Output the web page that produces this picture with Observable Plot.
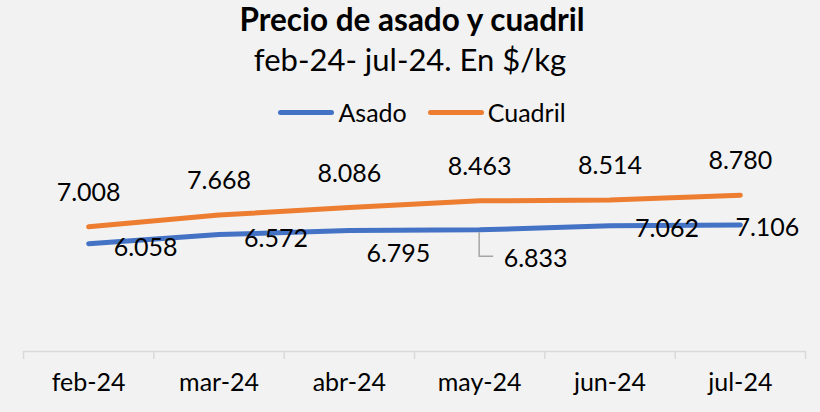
<!DOCTYPE html>
<html>
<head>
<meta charset="utf-8">
<script src="https://cdn.jsdelivr.net/npm/d3@7"></script>
<script src="https://cdn.jsdelivr.net/npm/@observablehq/plot@0.6"></script>
<style>
  html, body { margin: 0; padding: 0; background: #f2f2f2; }
  body { width: 820px; height: 412px; overflow: hidden; font-family: Lato, "Open Sans", sans-serif; color: #000; }
  #header { position: relative; width: 820px; height: 130px; }
  .t { position: absolute; left: 0; width: 820px; text-align: center; line-height: 1; white-space: nowrap; }
  #title { top: 4px; left: 2px; font-size: 31.5px; font-weight: 700; }
  #subtitle { top: 44px; font-size: 31px; }
  #legend { position: absolute; top: 100px; left: 0; width: 820px; display: flex; justify-content: center; align-items: center; font-size: 25px; line-height: 1; transform: translateX(12px); }
  .sw { width: 56px; height: 5px; border-radius: 3px; margin-right: 4px; }
  .gap { width: 21px; }
  #chart svg [aria-label="x-axis tick"] { stroke-width: 1.5; }
</style>
</head>
<body>
<div id="header">
  <div class="t" id="title">Precio de asado y cuadril</div>
  <div class="t" id="subtitle">feb-24- jul-24. En $/kg</div>
  <div id="legend"></div>
</div>
<div id="chart"></div>
<script>
const months = ["feb-24", "mar-24", "abr-24", "may-24", "jun-24", "jul-24"];
const asado = [6058, 6572, 6795, 6833, 7062, 7106];
const cuadril = [7008, 7668, 8086, 8463, 8514, 8780];
const seriesNames = ["Asado", "Cuadril"];
const seriesColors = ["#4472c4", "#ed7d31"];
// label placement (pixel offsets) for the Asado data labels, as in the original
const asadoLabelDx = [57, 57, 49, 56, 57, 27];
const asadoLabelDy = [4, 4, 23, 29, 3, 3];

const fmt = d3.formatLocale({decimal: ",", thousands: ".", grouping: [3], currency: ["$", ""]}).format(",d");
const idx = d3.range(months.length);
const boundaries = d3.range(months.length + 1).map(i => i - 0.5);

// legend
const legend = document.getElementById("legend");
seriesNames.forEach((name, k) => {
  if (k > 0) { const g = document.createElement("div"); g.className = "gap"; legend.appendChild(g); }
  const sw = document.createElement("div"); sw.className = "sw"; sw.style.background = seriesColors[k]; legend.appendChild(sw);
  const tx = document.createElement("span"); tx.textContent = name; legend.appendChild(tx);
});

const leader = (index, scales) => {
  const i = 3;
  const x = scales.x(i), y = scales.y(asado[i]);
  const p = d3.create("svg:path")
    .attr("d", `M${x},${y + 3}V${y + 27}H${x + 14}`)
    .attr("fill", "none")
    .attr("stroke", "#a6a6a6")
    .attr("stroke-width", 1.5);
  return p.node();
};

const chart = Plot.plot({
  width: 820,
  height: 282,
  marginLeft: 23,
  marginRight: 15,
  marginTop: 43,
  marginBottom: 61,
  style: { background: "transparent", color: "#d9d9d9", fontFamily: "Lato, 'Open Sans', sans-serif", overflow: "visible" },
  x: { domain: [-0.5, 5.5], ticks: boundaries, tickFormat: () => "", tickSize: 8, label: null },
  y: { domain: [0, 10000], axis: null },
  marks: [
    Plot.ruleY([0], { stroke: "#d9d9d9", strokeWidth: 1.5 }),
    Plot.line(idx, { x: i => i, y: i => cuadril[i], stroke: seriesColors[1], strokeWidth: 5, strokeLinecap: "round", strokeLinejoin: "round" }),
    Plot.line(idx, { x: i => i, y: i => asado[i], stroke: seriesColors[0], strokeWidth: 5, strokeLinecap: "round", strokeLinejoin: "round" }),
    Plot.text(idx, { x: i => i, y: i => cuadril[i], text: i => fmt(cuadril[i]), dy: -34, fontSize: 25, fill: "#000" }),
    ...idx.map(i => Plot.text([i], { x: d => d, y: d => asado[d], text: d => fmt(asado[d]), dx: asadoLabelDx[i], dy: asadoLabelDy[i], fontSize: 25, fill: "#000" })),
    leader,
    Plot.text(idx, { x: i => i, text: i => months[i], frameAnchor: "bottom", dy: 39, fontSize: 25, fill: "#000" })
  ]
});
document.getElementById("chart").appendChild(chart);
</script>
</body>
</html>
